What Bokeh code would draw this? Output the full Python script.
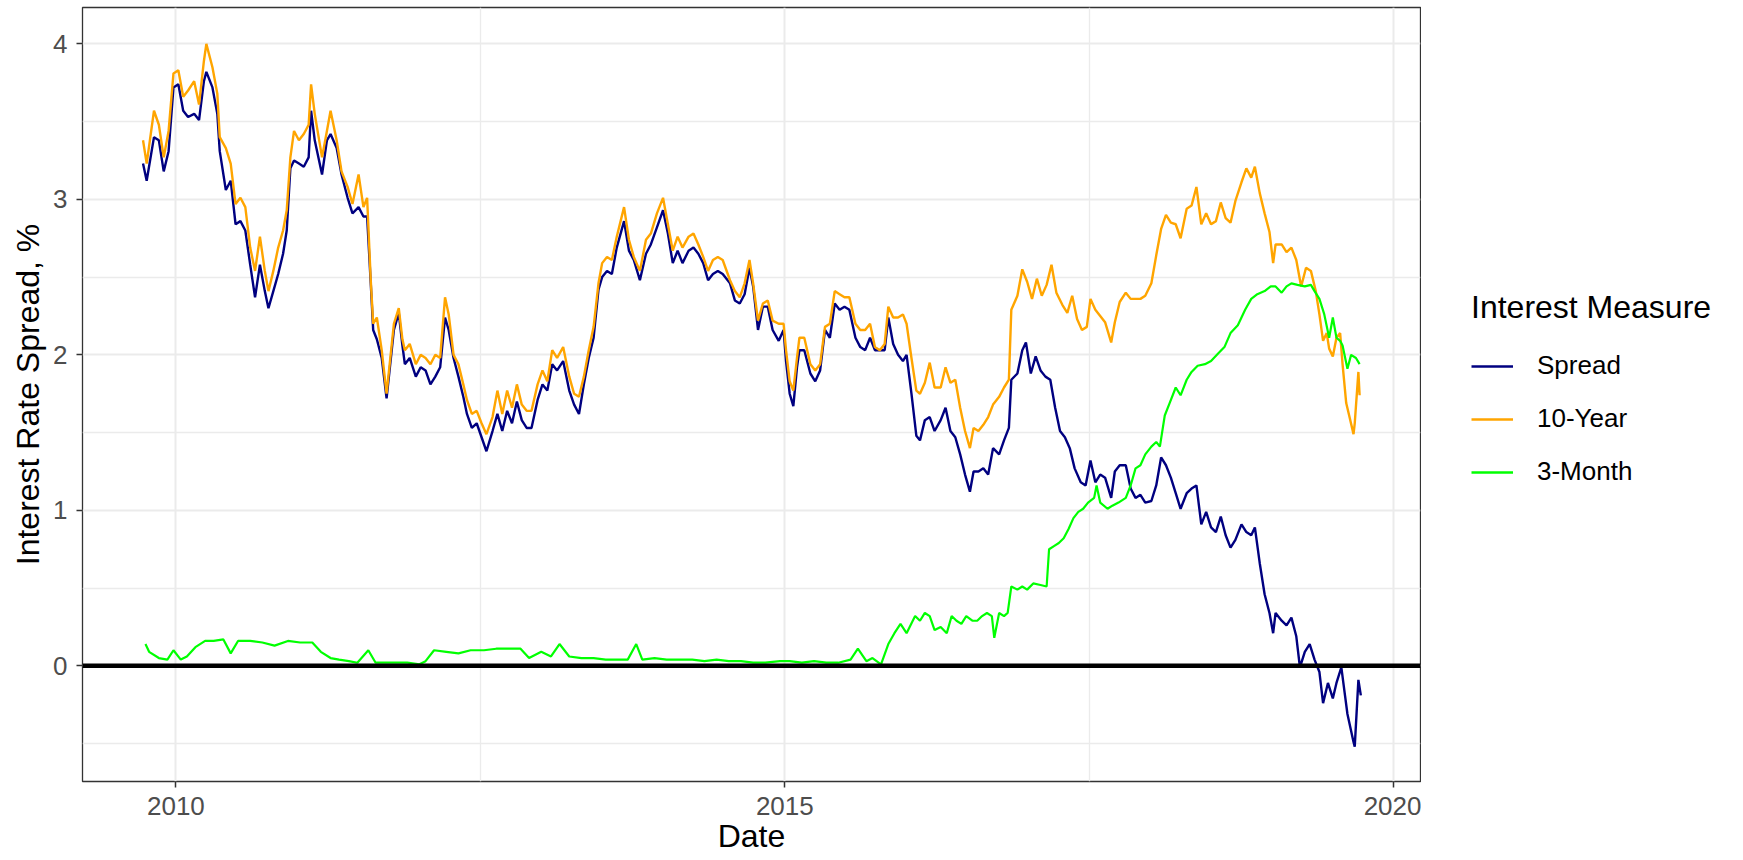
from bokeh.plotting import figure
from bokeh.layouts import row
from bokeh.models import (Range1d, FixedTicker, PrintfTickFormatter, Span,
                          Legend, LegendItem)
from bokeh.embed import file_html
from bokeh.resources import INLINE

# ---------------- data (decimal years, percent) ----------------
ten_year_dates = [
    2009.73, 2009.76, 2009.82, 2009.86, 2009.90, 2009.94, 2009.98, 2010.02, 2010.06, 2010.10,
    2010.15, 2010.19, 2010.23, 2010.25, 2010.30, 2010.34, 2010.36, 2010.41, 2010.45, 2010.49,
    2010.53, 2010.57, 2010.61, 2010.65, 2010.69, 2010.73, 2010.76, 2010.80, 2010.84, 2010.88,
    2010.91, 2010.94, 2010.97, 2011.01, 2011.05, 2011.09, 2011.11, 2011.14, 2011.20, 2011.24,
    2011.27, 2011.32, 2011.36, 2011.41, 2011.45, 2011.50, 2011.54, 2011.57, 2011.60, 2011.62,
    2011.65, 2011.69, 2011.73, 2011.79, 2011.83, 2011.86, 2011.88, 2011.92, 2011.97, 2012.01,
    2012.05, 2012.09, 2012.13, 2012.17, 2012.21, 2012.24, 2012.28, 2012.32, 2012.36, 2012.39,
    2012.43, 2012.47, 2012.51, 2012.55, 2012.60, 2012.64, 2012.68, 2012.72, 2012.76, 2012.80,
    2012.84, 2012.88, 2012.92, 2012.97, 2013.01, 2013.05, 2013.09, 2013.13, 2013.18, 2013.23,
    2013.27, 2013.31, 2013.35, 2013.39, 2013.43, 2013.47, 2013.50, 2013.54, 2013.58, 2013.62,
    2013.68, 2013.72, 2013.76, 2013.81, 2013.86, 2013.90, 2013.95, 2014.00, 2014.04, 2014.08,
    2014.12, 2014.16, 2014.21, 2014.25, 2014.29, 2014.33, 2014.37, 2014.41, 2014.45, 2014.49,
    2014.55, 2014.59, 2014.63, 2014.67, 2014.71, 2014.74, 2014.78, 2014.82, 2014.86, 2014.90,
    2014.95, 2014.99, 2015.01, 2015.04, 2015.07, 2015.10, 2015.12, 2015.16, 2015.21, 2015.25,
    2015.29, 2015.33, 2015.37, 2015.41, 2015.45, 2015.49, 2015.53, 2015.58, 2015.62, 2015.66,
    2015.70, 2015.74, 2015.78, 2015.82, 2015.85, 2015.89, 2015.93, 2015.97, 2016.00, 2016.04,
    2016.08, 2016.11, 2016.15, 2016.19, 2016.23, 2016.28, 2016.32, 2016.36, 2016.40, 2016.44,
    2016.48, 2016.52, 2016.55, 2016.59, 2016.63, 2016.67, 2016.71, 2016.76, 2016.80, 2016.84,
    2016.86, 2016.91, 2016.95, 2016.99, 2017.03, 2017.07, 2017.11, 2017.15, 2017.19, 2017.23,
    2017.28, 2017.32, 2017.36, 2017.40, 2017.44, 2017.48, 2017.51, 2017.55, 2017.59, 2017.63,
    2017.68, 2017.71, 2017.75, 2017.80, 2017.84, 2017.88, 2017.92, 2017.96, 2018.01, 2018.05,
    2018.09, 2018.13, 2018.17, 2018.21, 2018.25, 2018.30, 2018.34, 2018.38, 2018.42, 2018.46,
    2018.50, 2018.54, 2018.58, 2018.62, 2018.66, 2018.70, 2018.75, 2018.79, 2018.83, 2018.86,
    2018.90, 2018.94, 2018.98, 2019.01, 2019.03, 2019.08, 2019.12, 2019.16, 2019.20, 2019.24,
    2019.28, 2019.32, 2019.36, 2019.39, 2019.42, 2019.45, 2019.47, 2019.50, 2019.53, 2019.56,
    2019.58, 2019.61, 2019.64, 2019.67, 2019.68, 2019.71, 2019.72,
]
ten_year_values = [
    3.38, 3.23, 3.57, 3.48, 3.27, 3.44, 3.81, 3.83, 3.66, 3.70,
    3.76, 3.61, 3.89, 4.00, 3.85, 3.68, 3.40, 3.33, 3.23, 2.97,
    3.01, 2.95, 2.69, 2.54, 2.76, 2.54, 2.41, 2.54, 2.69, 2.80,
    2.93, 3.27, 3.44, 3.38, 3.42, 3.48, 3.74, 3.55, 3.27, 3.44,
    3.57, 3.38, 3.18, 3.08, 2.97, 3.16, 2.95, 3.01, 2.48, 2.20,
    2.24, 2.03, 1.75, 2.20, 2.30, 2.10, 2.03, 2.07, 1.94, 2.00,
    1.98, 1.94, 2.00, 1.98, 2.37, 2.26, 2.00, 1.94, 1.81, 1.71,
    1.62, 1.64, 1.56, 1.49, 1.60, 1.77, 1.62, 1.77, 1.66, 1.81,
    1.68, 1.64, 1.64, 1.81, 1.90, 1.83, 2.03, 1.98, 2.05, 1.86,
    1.75, 1.73, 1.86, 2.03, 2.18, 2.46, 2.59, 2.63, 2.61, 2.76,
    2.95, 2.74, 2.63, 2.54, 2.74, 2.78, 2.91, 3.01, 2.84, 2.67,
    2.76, 2.69, 2.76, 2.78, 2.71, 2.63, 2.54, 2.61, 2.63, 2.61,
    2.48, 2.41, 2.37, 2.46, 2.61, 2.46, 2.22, 2.33, 2.35, 2.22,
    2.20, 2.20, 2.03, 1.83, 1.77, 1.98, 2.11, 2.11, 1.94, 1.90,
    1.94, 2.18, 2.20, 2.41, 2.39, 2.37, 2.37, 2.20, 2.16, 2.16,
    2.20, 2.05, 2.03, 2.07, 2.31, 2.24, 2.24, 2.26, 2.20, 1.98,
    1.77, 1.75, 1.82, 1.95, 1.79, 1.79, 1.92, 1.82, 1.84, 1.66,
    1.51, 1.40, 1.53, 1.51, 1.55, 1.60, 1.68, 1.73, 1.79, 1.84,
    2.29, 2.38, 2.55, 2.47, 2.36, 2.49, 2.38, 2.45, 2.58, 2.40,
    2.32, 2.27, 2.38, 2.23, 2.16, 2.18, 2.36, 2.29, 2.25, 2.21,
    2.08, 2.21, 2.34, 2.40, 2.36, 2.36, 2.36, 2.38, 2.46, 2.64,
    2.81, 2.90, 2.85, 2.84, 2.75, 2.94, 2.96, 3.08, 2.84, 2.91,
    2.84, 2.86, 2.98, 2.88, 2.85, 2.99, 3.11, 3.20, 3.14, 3.21,
    3.04, 2.91, 2.79, 2.59, 2.71, 2.71, 2.66, 2.69, 2.61, 2.44,
    2.56, 2.54, 2.41, 2.26, 2.09, 2.14, 2.04, 1.99, 2.11, 2.14,
    1.94, 1.69, 1.59, 1.49, 1.56, 1.89, 1.74,
]

three_month_dates = [
    2009.75, 2009.78, 2009.86, 2009.93, 2009.98, 2010.04, 2010.09, 2010.16, 2010.24, 2010.31,
    2010.39, 2010.45, 2010.51, 2010.61, 2010.71, 2010.81, 2010.92, 2011.02, 2011.12, 2011.19,
    2011.27, 2011.34, 2011.42, 2011.49, 2011.58, 2011.64, 2011.77, 2011.90, 2012.00, 2012.05,
    2012.12, 2012.22, 2012.32, 2012.42, 2012.53, 2012.63, 2012.73, 2012.83, 2012.90, 2013.00,
    2013.08, 2013.15, 2013.23, 2013.33, 2013.43, 2013.53, 2013.63, 2013.71, 2013.78, 2013.83,
    2013.93, 2014.03, 2014.13, 2014.24, 2014.34, 2014.44, 2014.54, 2014.64, 2014.74, 2014.84,
    2014.96, 2015.04, 2015.14, 2015.24, 2015.34, 2015.44, 2015.54, 2015.60, 2015.67, 2015.72,
    2015.79, 2015.85, 2015.90, 2015.95, 2016.00, 2016.07, 2016.11, 2016.15, 2016.19, 2016.23,
    2016.28, 2016.33, 2016.37, 2016.41, 2016.45, 2016.49, 2016.54, 2016.58, 2016.62, 2016.66,
    2016.70, 2016.72, 2016.76, 2016.80, 2016.83, 2016.86, 2016.91, 2016.95, 2016.99, 2017.04,
    2017.10, 2017.15, 2017.17, 2017.21, 2017.25, 2017.29, 2017.33, 2017.37, 2017.41, 2017.45,
    2017.49, 2017.54, 2017.56, 2017.59, 2017.65, 2017.69, 2017.74, 2017.80, 2017.84, 2017.88,
    2017.92, 2017.96, 2018.01, 2018.05, 2018.08, 2018.12, 2018.16, 2018.21, 2018.25, 2018.30,
    2018.34, 2018.39, 2018.45, 2018.50, 2018.56, 2018.61, 2018.66, 2018.72, 2018.78, 2018.83,
    2018.88, 2018.94, 2018.99, 2019.03, 2019.08, 2019.12, 2019.16, 2019.21, 2019.27, 2019.32,
    2019.35, 2019.39, 2019.43, 2019.47, 2019.50, 2019.53, 2019.56, 2019.58, 2019.62, 2019.65,
    2019.69, 2019.72,
]
three_month_values = [
    0.14, 0.09, 0.05, 0.04, 0.10, 0.04, 0.06, 0.12, 0.16, 0.16,
    0.17, 0.08, 0.16, 0.16, 0.15, 0.13, 0.16, 0.15, 0.15, 0.09,
    0.05, 0.04, 0.03, 0.02, 0.10, 0.02, 0.02, 0.02, 0.01, 0.03,
    0.10, 0.09, 0.08, 0.10, 0.10, 0.11, 0.11, 0.11, 0.05, 0.09,
    0.06, 0.14, 0.06, 0.05, 0.05, 0.04, 0.04, 0.04, 0.14, 0.04,
    0.05, 0.04, 0.04, 0.04, 0.03, 0.04, 0.03, 0.03, 0.02, 0.02,
    0.03, 0.03, 0.02, 0.03, 0.02, 0.02, 0.04, 0.11, 0.03, 0.05,
    0.01, 0.14, 0.21, 0.27, 0.21, 0.32, 0.29, 0.34, 0.32, 0.23,
    0.25, 0.21, 0.32, 0.29, 0.27, 0.32, 0.29, 0.29, 0.32, 0.34,
    0.32, 0.18, 0.34, 0.32, 0.34, 0.51, 0.49, 0.51, 0.49, 0.53,
    0.52, 0.51, 0.75, 0.77, 0.79, 0.82, 0.88, 0.95, 0.99, 1.01,
    1.05, 1.08, 1.16, 1.05, 1.01, 1.03, 1.05, 1.08, 1.16, 1.27,
    1.29, 1.36, 1.41, 1.44, 1.41, 1.61, 1.69, 1.79, 1.74, 1.84,
    1.89, 1.93, 1.94, 1.96, 2.01, 2.05, 2.14, 2.19, 2.29, 2.36,
    2.39, 2.41, 2.44, 2.44, 2.40, 2.44, 2.46, 2.45, 2.44, 2.45,
    2.41, 2.36, 2.26, 2.11, 2.24, 2.11, 2.09, 2.06, 1.91, 2.00,
    1.98, 1.94,
]

spread_dates = [
    2009.73, 2009.76, 2009.82, 2009.86, 2009.90, 2009.94, 2009.98, 2010.02, 2010.06, 2010.10,
    2010.15, 2010.19, 2010.23, 2010.25, 2010.30, 2010.34, 2010.36, 2010.41, 2010.45, 2010.49,
    2010.53, 2010.57, 2010.61, 2010.65, 2010.69, 2010.73, 2010.76, 2010.80, 2010.84, 2010.88,
    2010.91, 2010.94, 2010.97, 2011.01, 2011.05, 2011.09, 2011.11, 2011.14, 2011.20, 2011.24,
    2011.27, 2011.32, 2011.36, 2011.41, 2011.45, 2011.50, 2011.54, 2011.57, 2011.60, 2011.62,
    2011.65, 2011.69, 2011.73, 2011.79, 2011.83, 2011.86, 2011.88, 2011.92, 2011.97, 2012.01,
    2012.05, 2012.09, 2012.13, 2012.17, 2012.21, 2012.24, 2012.28, 2012.32, 2012.36, 2012.39,
    2012.43, 2012.47, 2012.51, 2012.55, 2012.60, 2012.64, 2012.68, 2012.72, 2012.76, 2012.80,
    2012.84, 2012.88, 2012.92, 2012.97, 2013.01, 2013.05, 2013.09, 2013.13, 2013.18, 2013.23,
    2013.27, 2013.31, 2013.35, 2013.39, 2013.43, 2013.47, 2013.50, 2013.54, 2013.58, 2013.62,
    2013.68, 2013.72, 2013.76, 2013.81, 2013.86, 2013.90, 2013.95, 2014.00, 2014.04, 2014.08,
    2014.12, 2014.16, 2014.21, 2014.25, 2014.29, 2014.33, 2014.37, 2014.41, 2014.45, 2014.49,
    2014.55, 2014.59, 2014.63, 2014.67, 2014.71, 2014.74, 2014.78, 2014.82, 2014.86, 2014.90,
    2014.95, 2014.99, 2015.01, 2015.04, 2015.07, 2015.10, 2015.12, 2015.16, 2015.21, 2015.25,
    2015.29, 2015.33, 2015.37, 2015.41, 2015.45, 2015.49, 2015.53, 2015.58, 2015.62, 2015.66,
    2015.70, 2015.74, 2015.78, 2015.82, 2015.85, 2015.89, 2015.93, 2015.97, 2016.00, 2016.04,
    2016.08, 2016.11, 2016.15, 2016.19, 2016.23, 2016.28, 2016.32, 2016.36, 2016.40, 2016.44,
    2016.48, 2016.52, 2016.55, 2016.59, 2016.63, 2016.67, 2016.71, 2016.76, 2016.80, 2016.84,
    2016.86, 2016.91, 2016.95, 2016.98, 2017.02, 2017.06, 2017.10, 2017.14, 2017.18, 2017.22,
    2017.26, 2017.30, 2017.34, 2017.38, 2017.43, 2017.47, 2017.51, 2017.55, 2017.59, 2017.63,
    2017.68, 2017.71, 2017.75, 2017.80, 2017.84, 2017.88, 2017.92, 2017.96, 2018.01, 2018.05,
    2018.09, 2018.13, 2018.17, 2018.21, 2018.25, 2018.30, 2018.34, 2018.38, 2018.42, 2018.46,
    2018.50, 2018.54, 2018.58, 2018.62, 2018.66, 2018.70, 2018.75, 2018.79, 2018.83, 2018.86,
    2018.90, 2018.94, 2018.98, 2019.01, 2019.03, 2019.08, 2019.12, 2019.16, 2019.20, 2019.23,
    2019.27, 2019.31, 2019.35, 2019.39, 2019.42, 2019.46, 2019.50, 2019.53, 2019.57, 2019.60,
    2019.62, 2019.67, 2019.68, 2019.71, 2019.73,
]
spread_values = [
    3.23, 3.12, 3.40, 3.38, 3.18, 3.31, 3.72, 3.74, 3.57, 3.53,
    3.55, 3.51, 3.76, 3.82, 3.72, 3.55, 3.31, 3.06, 3.12, 2.84,
    2.86, 2.80, 2.58, 2.37, 2.58, 2.41, 2.30, 2.41, 2.52, 2.65,
    2.80, 3.20, 3.25, 3.23, 3.21, 3.27, 3.57, 3.38, 3.16, 3.38,
    3.42, 3.33, 3.16, 3.01, 2.91, 2.95, 2.89, 2.89, 2.46, 2.16,
    2.10, 1.98, 1.72, 2.16, 2.27, 2.06, 1.94, 1.98, 1.86, 1.92,
    1.90, 1.81, 1.86, 1.92, 2.24, 2.16, 1.98, 1.86, 1.73, 1.62,
    1.53, 1.56, 1.47, 1.38, 1.51, 1.62, 1.51, 1.64, 1.56, 1.70,
    1.58, 1.53, 1.53, 1.71, 1.81, 1.77, 1.94, 1.90, 1.96, 1.77,
    1.68, 1.62, 1.81, 1.98, 2.11, 2.42, 2.50, 2.54, 2.52, 2.69,
    2.86, 2.67, 2.61, 2.48, 2.65, 2.71, 2.82, 2.93, 2.78, 2.59,
    2.67, 2.59, 2.67, 2.69, 2.65, 2.59, 2.48, 2.52, 2.54, 2.52,
    2.46, 2.35, 2.33, 2.39, 2.56, 2.44, 2.16, 2.31, 2.31, 2.16,
    2.09, 2.16, 1.96, 1.75, 1.67, 1.92, 2.03, 2.03, 1.88, 1.83,
    1.90, 2.16, 2.11, 2.33, 2.29, 2.31, 2.29, 2.11, 2.05, 2.03,
    2.11, 2.03, 2.03, 2.03, 2.24, 2.07, 2.00, 1.96, 2.00, 1.75,
    1.48, 1.45, 1.58, 1.60, 1.51, 1.58, 1.66, 1.51, 1.47, 1.36,
    1.23, 1.12, 1.25, 1.25, 1.27, 1.23, 1.40, 1.36, 1.45, 1.53,
    1.84, 1.88, 2.03, 2.08, 1.88, 1.99, 1.90, 1.86, 1.84, 1.66,
    1.51, 1.47, 1.40, 1.27, 1.18, 1.16, 1.32, 1.18, 1.23, 1.21,
    1.08, 1.25, 1.29, 1.29, 1.14, 1.08, 1.10, 1.05, 1.06, 1.16,
    1.34, 1.29, 1.21, 1.11, 1.01, 1.11, 1.14, 1.16, 0.91, 0.99,
    0.89, 0.86, 0.96, 0.84, 0.76, 0.81, 0.91, 0.86, 0.84, 0.89,
    0.66, 0.46, 0.34, 0.21, 0.34, 0.29, 0.26, 0.31, 0.19, -0.01,
    0.09, 0.14, 0.04, -0.04, -0.24, -0.11, -0.21, -0.11, -0.01, -0.19,
    -0.31, -0.49, -0.52, -0.09, -0.19,
]

x_ticks = [2010, 2015, 2020]
x_minor = [2012.5, 2017.5]
y_ticks = [0, 1, 2, 3, 4]
y_minor = [-0.5, 0.5, 1.5, 2.5, 3.5]
series_labels = ["Spread", "10-Year", "3-Month"]
series_colors = ["#000080", "#FFA500", "#00FF00"]
legend_title = "Interest Measure"

FONT = "Liberation Sans"

# ---------------- main panel ----------------
p = figure(width=1421, height=860, output_backend="svg", toolbar_location=None,
           x_range=Range1d(2009.233, 2020.22), y_range=Range1d(-0.744, 4.234),
           min_border_left=82, min_border_right=1, min_border_top=7,
           min_border_bottom=79)
p.background_fill_color = "white"
p.border_fill_color = "white"
p.outline_line_color = "#333333"
p.outline_line_width = 1.3

p.line(spread_dates, spread_values, line_color=series_colors[0], line_width=2.4)
p.line(ten_year_dates, ten_year_values, line_color=series_colors[1], line_width=2.4)
p.line(three_month_dates, three_month_values, line_color=series_colors[2], line_width=2.2)

p.add_layout(Span(location=0, dimension="width", line_color="black", line_width=4.5))

for ax, ticks, minor in ((p.xaxis[0], x_ticks, x_minor), (p.yaxis[0], y_ticks, y_minor)):
    ax.ticker = FixedTicker(ticks=ticks, minor_ticks=minor)
    ax.formatter = PrintfTickFormatter(format="%d")
    ax.axis_line_color = None
    ax.major_tick_line_color = "#333333"
    ax.major_tick_line_width = 1.5
    ax.major_tick_out = 6
    ax.major_tick_in = 0
    ax.minor_tick_line_color = None
    ax.major_label_text_font = FONT
    ax.major_label_text_font_size = "26px"
    ax.major_label_text_color = "#4D4D4D"
    ax.axis_label_text_font = FONT
    ax.axis_label_text_font_size = "32px"
    ax.axis_label_text_font_style = "normal"
    ax.axis_label_text_color = "black"

p.xaxis.major_label_standoff = 9
p.xaxis.axis_label_standoff = 0
p.yaxis.major_label_standoff = 9
p.yaxis.axis_label_standoff = 4
p.xaxis.axis_label = "Date"
p.yaxis.axis_label = "Interest Rate Spread, %"

for g in (p.xgrid[0], p.ygrid[0]):
    g.grid_line_color = "#EBEBEB"
    g.grid_line_width = 2
    g.minor_grid_line_color = "#EBEBEB"
    g.minor_grid_line_width = 1.3

# ---------------- legend area (right of the panel) ----------------
q = figure(width=322, height=860, output_backend="svg", toolbar_location=None,
           x_axis_type=None, y_axis_type=None,
           x_range=Range1d(0, 1), y_range=Range1d(0, 1),
           min_border_left=0, min_border_right=0, min_border_top=0, min_border_bottom=0)
q.grid.visible = False
q.outline_line_color = None
q.background_fill_color = "white"
q.border_fill_color = "white"

# key renderers sit outside the visible range; only their legend swatches show
keys = [
    q.line([-5, -4], [-5, -5], line_color=series_colors[0], line_width=2.4),
    q.line([-5, -4], [-5, -5], line_color=series_colors[1], line_width=2.4),
    q.line([-5, -4], [-5, -5], line_color=series_colors[2], line_width=2.4),
]
legend = Legend(
    items=[LegendItem(label=lab, renderers=[r]) for lab, r in zip(series_labels, keys)],
    title=legend_title, location=(50, 294),
    title_text_font=FONT, title_text_font_size="32px", title_text_font_style="normal",
    title_text_color="black", title_standoff=24,
    label_text_font=FONT, label_text_font_size="26px", label_text_color="black",
    glyph_width=42, glyph_height=30, label_height=30, label_standoff=24, spacing=22,
    padding=0, margin=0, border_line_color=None, background_fill_alpha=0,
)
q.add_layout(legend)

layout = row(p, q, spacing=0)
open("out.html", "w").write(file_html(layout, INLINE))
